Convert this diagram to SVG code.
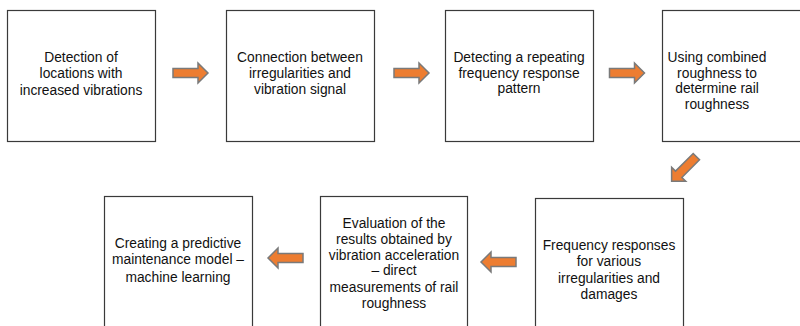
<svg xmlns="http://www.w3.org/2000/svg" width="800" height="326" viewBox="0 0 800 326">
<style>
.box{fill:#fff;stroke:#3a3a3a;stroke-width:1.2}
.t{font-family:"Liberation Sans",Arial,sans-serif;font-size:13.8px;fill:#111;text-anchor:middle}
.arr{fill:#ED7D31;stroke:#7a7a7a;stroke-width:1.5;stroke-linejoin:miter}
</style>
<defs>
<path id="ar" d="M-17.5,-4.5 H7.5 V-10 L17.5,0 L7.5,10 V4.5 H-17.5 Z"/>
</defs>
<rect width="800" height="326" fill="#fff"/>
<g id="n1"><rect class="box" x="7.5" y="10.5" width="148" height="131"/>
<text class="t" x="81" y="62">Detection of</text><text class="t" x="81" y="78">locations with</text><text class="t" x="81" y="95">increased vibrations</text></g>
<g id="n2"><rect class="box" x="226.5" y="10.5" width="148" height="131"/>
<text class="t" x="300" y="62">Connection between</text><text class="t" x="300" y="78">irregularities and</text><text class="t" x="300" y="94">vibration signal</text></g>
<g id="n3"><rect class="box" x="445.5" y="10.5" width="148" height="131"/>
<text class="t" x="519" y="62">Detecting a repeating</text><text class="t" x="519" y="78">frequency response</text><text class="t" x="519" y="93">pattern</text></g>
<g id="n4"><rect class="box" x="662.5" y="10.5" width="148" height="131"/>
<text class="t" x="717" y="62">Using combined</text><text class="t" x="717" y="78">roughness to</text><text class="t" x="717" y="93">determine rail</text><text class="t" x="717" y="109">roughness</text></g>
<g id="n5"><rect class="box" x="535.5" y="198.5" width="148" height="140"/>
<text class="t" x="609" y="250">Frequency responses</text><text class="t" x="609" y="266">for various</text><text class="t" x="609" y="283">irregularities and</text><text class="t" x="609" y="299">damages</text></g>
<g id="n6"><rect class="box" x="320.5" y="196.5" width="147" height="140"/>
<text class="t" x="394" y="228">Evaluation of the</text><text class="t" x="394" y="244">results obtained by</text><text class="t" x="394" y="260">vibration acceleration</text><text class="t" x="394" y="275">– direct</text><text class="t" x="394" y="292">measurements of rail</text><text class="t" x="394" y="308">roughness</text></g>
<g id="n7"><rect class="box" x="104.5" y="196.5" width="148" height="140"/>
<text class="t" x="178" y="248">Creating a predictive</text><text class="t" x="178" y="264">maintenance model –</text><text class="t" x="178" y="282">machine learning</text></g>
<g id="connectors">
<use href="#ar" class="arr" transform="translate(190.5,73)"/>
<use href="#ar" class="arr" transform="translate(411.5,73)"/>
<use href="#ar" class="arr" transform="translate(627,73)"/>
<use href="#ar" class="arr" transform="translate(684,169) rotate(135)"/>
<use href="#ar" class="arr" transform="translate(498.5,262) rotate(180)"/>
<use href="#ar" class="arr" transform="translate(285.5,258) rotate(180)"/>
</g>
</svg>
